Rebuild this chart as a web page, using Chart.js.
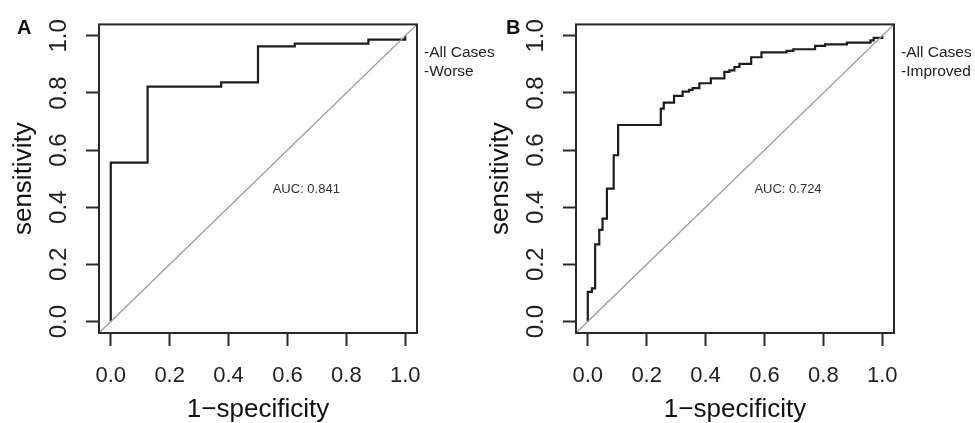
<!DOCTYPE html>
<html>
<head>
<meta charset="utf-8">
<script src="https://cdn.jsdelivr.net/npm/chart.js@4"></script>
<style>
  body { margin: 0; background: #fff; }
  .wrap { position: relative; width: 975px; height: 423px; }
  canvas { position: absolute; left: 0; top: 0; }
</style>
</head>
<body>
<div class="wrap">
  <canvas id="chart-worse" width="975" height="423"></canvas>
  <canvas id="chart-improved" width="975" height="423"></canvas>
</div>
<script>
// Data
const axisTicks = [0, 0.2, 0.4, 0.6, 0.8, 1.0];
const axisRange = [-0.04, 1.04];
const diagonal = [-0.04, 1.04];

// Panel A - worse
const worseFpr = [0, 0, 0.125, 0.375, 0.5, 0.625, 0.875, 1.0];
const worseTpr = [0, 0.556, 0.822, 0.837, 0.963, 0.973, 0.987, 1.0];
const worseAuc = 'AUC: 0.841';
const worseLegend = ['-All Cases', '-Worse'];

// Panel B - improved
const improvedFpr = [0, 0, 0.014, 0.025, 0.039, 0.050, 0.065, 0.088, 0.103, 0.225, 0.248, 0.248,
  0.258, 0.293, 0.322, 0.344, 0.356, 0.379, 0.418, 0.464, 0.481, 0.498, 0.515, 0.555,
  0.590, 0.675, 0.698, 0.772, 0.806, 0.880, 0.960, 0.971, 1.0];
const improvedTpr = [0, 0.104, 0.116, 0.270, 0.321, 0.360, 0.465, 0.582, 0.688, 0.688, 0.700, 0.745,
  0.766, 0.790, 0.805, 0.811, 0.817, 0.834, 0.851, 0.874, 0.879, 0.891, 0.902, 0.925,
  0.942, 0.947, 0.953, 0.965, 0.970, 0.976, 0.984, 0.993, 1.0];
const improvedAuc = 'AUC: 0.724';
const improvedLegend = ['-All Cases', '-Improved'];

Chart.defaults.font.family = "'Liberation Sans', Arial, Helvetica, sans-serif";
Chart.defaults.color = '#222';

// box, AUC text, panel letter, side labels
const rocExtras = {
  id: 'rocExtras',
  afterDraw(chart, args, opts) {
    const ctx = chart.ctx;
    const { left, top, right, bottom } = chart.chartArea;
    ctx.save();
    ctx.strokeStyle = '#2a2a2a';
    ctx.lineWidth = 2;
    ctx.strokeRect(left, top, right - left, bottom - top);

    ctx.fillStyle = '#333';
    ctx.font = "13px 'Liberation Sans', Arial, sans-serif";
    ctx.textAlign = 'center';
    ctx.textBaseline = 'middle';
    ctx.fillText(opts.auc, chart.scales.x.getPixelForValue(opts.aucX), chart.scales.y.getPixelForValue(opts.aucY));

    ctx.fillStyle = '#111';
    ctx.font = "bold 20px 'Liberation Sans', Arial, sans-serif";
    ctx.textAlign = 'left';
    ctx.textBaseline = 'alphabetic';
    ctx.fillText(opts.letter, opts.letterX, 34);

    ctx.fillStyle = '#222';
    ctx.font = "15.5px 'Liberation Sans', Arial, sans-serif";
    opts.legend.forEach((t, i) => {
      ctx.fillText(t, right + 7, 57 + i * 18.5);
    });
    ctx.restore();
  }
};

function makeRoc(canvasId, fpr, tpr, padLeft, padRight, extras) {
  const points = fpr.map((x, i) => ({ x: x, y: tpr[i] }));
  const diag = diagonal.map(v => ({ x: v, y: v }));
  return new Chart(document.getElementById(canvasId).getContext('2d'), {
    type: 'line',
    data: {
      datasets: [
        { data: diag, borderColor: '#9c9c9c', borderWidth: 1.3, pointRadius: 0 },
        { data: points, borderColor: '#1c1c1c', borderWidth: 2.2, pointRadius: 0, stepped: 'before', borderJoinStyle: 'miter' }
      ]
    },
    options: {
      responsive: false,
      animation: false,
      layout: { padding: { left: padLeft, top: 17, right: padRight, bottom: 0 } },
      plugins: {
        legend: { display: false },
        tooltip: { enabled: false },
        rocExtras: extras
      },
      scales: {
        x: {
          type: 'linear',
          min: axisRange[0], max: axisRange[1],
          afterBuildTicks: s => { s.ticks = axisTicks.map(v => ({ value: v })); },
          afterFit: s => { s.height = 90; },
          grid: { drawOnChartArea: false, tickLength: 13, tickWidth: 2, tickColor: '#2a2a2a' },
          border: { display: false },
          ticks: { font: { size: 22, lineHeight: 1.2 }, color: '#222', padding: 17, maxRotation: 0, autoSkip: false,
            callback: v => v.toFixed(1) },
          title: { display: true, text: '1\u2212specificity', font: { size: 26, lineHeight: 1 }, color: '#111', padding: 0 }
        },
        y: {
          type: 'linear',
          min: axisRange[0], max: axisRange[1],
          afterBuildTicks: s => { s.ticks = axisTicks.map(v => ({ value: v })); },
          afterFit: s => { s.width = 99; },
          grid: { drawOnChartArea: false, tickLength: 13, tickWidth: 2, tickColor: '#2a2a2a' },
          border: { display: false },
          ticks: { font: { size: 24, lineHeight: 1.2 }, color: '#222', padding: 10, minRotation: 90, maxRotation: 90,
            crossAlign: 'center', autoSkip: false, callback: v => v.toFixed(1) },
          title: { display: true, text: 'sensitivity', font: { size: 26, lineHeight: 1 }, color: '#111', padding: { top: 11, bottom: 0 } }
        }
      }
    },
    plugins: [rocExtras]
  });
}

const worseChart = makeRoc('chart-worse', worseFpr, worseTpr, 0, 558,
  { auc: worseAuc, aucX: 0.664, aucY: 0.461, letter: 'A', letterX: 17, legend: worseLegend });
const improvedChart = makeRoc('chart-improved', improvedFpr, improvedTpr, 477, 81,
  { auc: improvedAuc, aucX: 0.68, aucY: 0.461, letter: 'B', letterX: 506, legend: improvedLegend });
</script>
</body>
</html>
